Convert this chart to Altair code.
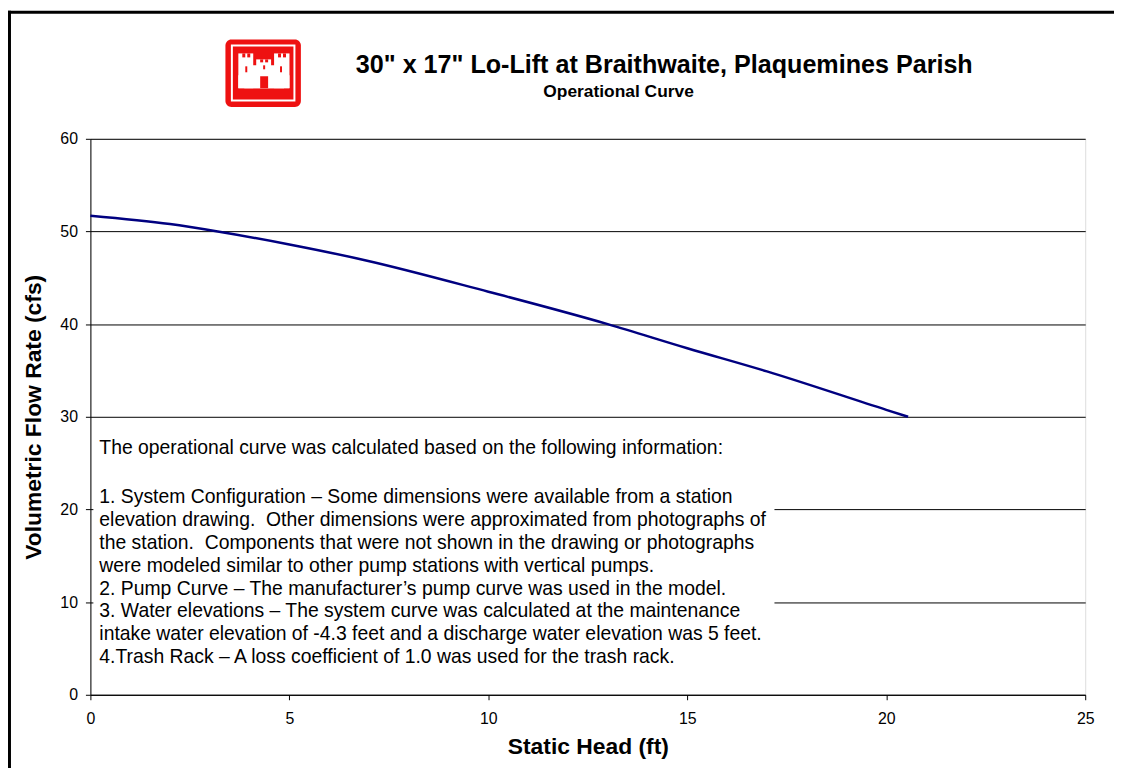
import altair as alt
import pandas as pd

# ---- data ----
static_head = [0, 2, 3.2, 5, 6.9, 10, 13, 15, 17, 20, 20.55]
flow_rate = [51.7, 50.8, 50.0, 48.6, 46.9, 43.5, 40.0, 37.4, 34.9, 30.75, 30.0]

x_ticks = [0, 5, 10, 15, 20, 25]
y_ticks = [0, 10, 20, 30, 40, 50, 60]

title_text = '30" x 17" Lo-Lift at Braithwaite, Plaquemines Parish'
subtitle_text = "Operational Curve"

note_lines = [
    "The operational curve was calculated based on the following information:",
    "1. System Configuration \u2013 Some dimensions were available from a station",
    "elevation drawing.\u00a0 Other dimensions were approximated from photographs of",
    "the station.\u00a0 Components that were not shown in the drawing or photographs",
    "were modeled similar to other pump stations with vertical pumps.",
    "2. Pump Curve \u2013 The manufacturer\u2019s pump curve was used in the model.",
    "3. Water elevations \u2013 The system curve was calculated at the maintenance",
    "intake water elevation of -4.3 feet and a discharge water elevation was 5 feet.",
    "4.Trash Rack \u2013 A loss coefficient of 1.0 was used for the trash rack.",
]

FONT = "Liberation Sans"
W, H = 1002, 560

curve_df = pd.DataFrame({"head": static_head, "flow": flow_rate})

x_enc = alt.X("head:Q", scale=alt.Scale(domain=[0, 25], nice=False),
              axis=alt.Axis(values=x_ticks, grid=False, title="Static Head (ft)",
                            titleFontSize=23, titleFontWeight="bold", titleColor="black",
                            labelFontSize=16, labelColor="black", labelPadding=11,
                            labelFlush=False,
                            titlePadding=9, tickSize=5, tickColor="black",
                            domainColor="black", labelFont=FONT, titleFont=FONT))
y_enc = alt.Y("flow:Q", scale=alt.Scale(domain=[0, 60], nice=False),
              axis=alt.Axis(values=y_ticks, grid=True, gridColor="black", gridWidth=1,
                            title="Volumetric Flow Rate (cfs)", titleFontSize=23,
                            titleFontWeight="bold", titleColor="black",
                            labelFontSize=16, labelColor="black", labelPadding=8,
                            labelFlush=False,
                            titlePadding=14, tickSize=5, tickColor="black",
                            domainColor="black", labelFont=FONT, titleFont=FONT))

curve = alt.Chart(curve_df).mark_line(color="#000080", strokeWidth=2.5,
                                      interpolate="monotone").encode(x=x_enc, y=y_enc)

# white note box covering the grid lines
box = alt.Chart(pd.DataFrame({"a": [0]})).mark_rect(fill="white").encode(
    x=alt.value(3), x2=alt.value(689), y=alt.value(285), y2=alt.value(553))

# note text lines
offsets = [0] + [50 + 23 * (i - 1) for i in range(1, len(note_lines))]
notes_df = pd.DataFrame({"line": note_lines, "py": [311 + o for o in offsets]})
notes = alt.Chart(notes_df).mark_text(align="left", baseline="middle", fontSize=19.5,
                                      font=FONT, color="black").encode(
    text="line:N", x=alt.value(9), y=alt.Y("py:Q", scale=None))

# titles
title_mark = alt.Chart(pd.DataFrame({"t": [title_text]})).mark_text(
    fontSize=25.3, fontWeight="bold", font=FONT, color="black", align="center",
    baseline="middle").encode(text="t:N", x=alt.value(578), y=alt.value(-74))
subtitle_mark = alt.Chart(pd.DataFrame({"t": [subtitle_text]})).mark_text(
    fontSize=17.5, fontWeight="bold", font=FONT, color="black", align="center",
    baseline="middle").encode(text="t:N", x=alt.value(532), y=alt.value(-47))

# logo (decoration, pixel geometry relative to the plot area)
ox, oy = 91, 137
logo_outer = alt.Chart(pd.DataFrame({"a": [0]})).mark_rect(
    color="#ee1111", cornerRadius=6).encode(
    x=alt.value(227 - ox), x2=alt.value(303 - ox),
    y=alt.value(37 - oy), y2=alt.value(105 - oy))
logo_rects = [
    (232.5, 297.5, 42, 99.5, "white"),
    (234.5, 295.5, 44, 97.5, "#ee1111"),
    (240, 255, 51, 86, "white"),      # left tower
    (276, 291.5, 51, 86, "white"),    # right tower
    (258, 273, 57, 70, "white"),      # centre tower
    (246, 286, 63, 86, "white"),      # body
    (240, 291.5, 73, 86, "white"),    # base
    (244, 247, 51, 55, "#ee1111"),    # crenels
    (249, 252, 51, 55, "#ee1111"),
    (280, 283, 51, 55, "#ee1111"),
    (285, 288, 51, 55, "#ee1111"),
    (262, 265, 57, 60, "#ee1111"),
    (267, 270, 57, 60, "#ee1111"),
    (262, 270, 74, 86, "#ee1111"),    # door
    (247, 249, 64, 70, "#ee1111"),    # windows
    (282, 284, 64, 70, "#ee1111"),
    (265, 267, 63, 67, "#ee1111"),
]
logo_df = pd.DataFrame({
    "x": [r[0] - ox for r in logo_rects], "x2": [r[1] - ox for r in logo_rects],
    "y": [r[2] - oy for r in logo_rects], "y2": [r[3] - oy for r in logo_rects],
    "c": [r[4] for r in logo_rects],
    "o": list(range(len(logo_rects))),
})
logo = alt.Chart(logo_df).mark_rect().encode(
    x=alt.X("x:Q", scale=None), x2="x2:Q",
    y=alt.Y("y:Q", scale=None), y2="y2:Q",
    color=alt.Color("c:N", scale=None),
    order="o:Q")

# outer frame (top and left edges)
frame_df = pd.DataFrame({
    "x": [-83, -83], "x2": [1040, -80],
    "y": [-129, -129], "y2": [-126, 640],
})
frame = alt.Chart(frame_df).mark_rect(color="black").encode(
    x=alt.X("x:Q", scale=None), x2="x2:Q",
    y=alt.Y("y:Q", scale=None), y2="y2:Q")

chart = alt.layer(box, curve, notes, title_mark, subtitle_mark, logo_outer, logo, frame).properties(
    width=W, height=H,
    autosize=alt.AutoSizeParams(type="none"),
    padding={"left": 83, "top": 129, "right": 29, "bottom": 71},
).configure_view(stroke="#808080", strokeWidth=1.5).configure(background="white")

chart.save("out.html", embed_options={"renderer": "svg", "actions": False})
